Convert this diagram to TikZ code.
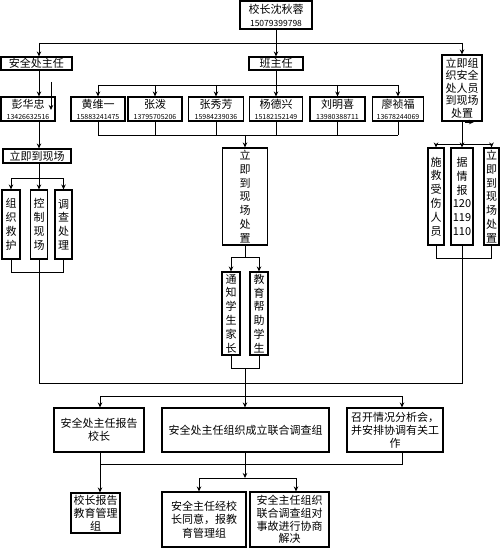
\documentclass[tikz,border=0pt]{standalone}
\usepackage{fontspec}
\setmainfont{Noto Sans CJK SC}
\usetikzlibrary{arrows.meta}
\newcommand\phn[1]{{\fontsize{7}{8}\selectfont #1}}
\begin{document}
\begin{tikzpicture}[x=1pt,y=-1pt,
  bx/.style={draw, line width=1.1pt, inner sep=0pt, align=center, font=\fontsize{11}{13}\selectfont},
  vt/.style={bx, font=\fontsize{11}{13.8}\selectfont},
  ln/.style={line width=0.8pt},
  ar/.style={ln, -{Stealth[length=5pt,width=4.5pt]}}]
\useasboundingbox[fill=white] (0,0) rectangle (500,548);
% column / row coordinates
\coordinate (xL) at (39,0);   \coordinate (xT) at (276,0);  \coordinate (xR) at (462,0);
\coordinate (xM) at (245,0);  \coordinate (x1) at (100,0);  \coordinate (x3) at (402,0);
\coordinate (xa) at (199,0);  \coordinate (xb) at (296,0);
\coordinate (y43) at (0,43);  \coordinate (y85) at (0,85);  \coordinate (y135) at (0,135);
\coordinate (y144) at (0,144);\coordinate (y178) at (0,178);\coordinate (y257) at (0,257);
\coordinate (y258) at (0,258);\coordinate (y272) at (0,272);\coordinate (y368) at (0,368);
\coordinate (y383) at (0,383);\coordinate (y396) at (0,396);\coordinate (y464) at (0,464);
\coordinate (y478) at (0,478);
% nodes
\node[bx, minimum width=72pt, minimum height=28pt] (top) at (276,15) {校长沈秋蓉\\{\fontsize{8.5}{10}\selectfont 15079399798}};
\node[bx, minimum width=71pt, minimum height=13pt] (aq) at (36.5,63.5) {安全处主任};
\node[bx, minimum width=54pt, minimum height=13pt] (bzr) at (276,63.5) {班主任};
\node[bx, minimum width=40pt, minimum height=66pt, font=\fontsize{11}{12.6}\selectfont] (ljzz) at (462,88) {立即组\\织安全\\处人员\\到现场\\处置};
\node[bx, minimum width=54pt, minimum height=24pt, font=\fontsize{11}{11}\selectfont] (phz) at (28,109) {彭华忠\\\phn{13426632516}};
\node[bx, minimum width=54pt, minimum height=24pt, font=\fontsize{11}{11}\selectfont] (hwy) at (98,109) {黄维一\\\phn{15883241475}};
\node[bx, minimum width=54pt, minimum height=24pt, font=\fontsize{11}{11}\selectfont] (zp) at (155,109) {张泼\\\phn{13795705206}};
\node[bx, minimum width=55pt, minimum height=24pt, font=\fontsize{11}{11}\selectfont] (zxf) at (216,109) {张秀芳\\\phn{15984239036}};
\node[bx, minimum width=53pt, minimum height=24pt, font=\fontsize{11}{11}\selectfont] (ydx) at (276,109) {杨德兴\\\phn{15182152149}};
\node[bx, minimum width=55pt, minimum height=24pt, font=\fontsize{11}{11}\selectfont] (lmx) at (337.5,109) {刘明喜\\\phn{13980388711}};
\node[bx, minimum width=51pt, minimum height=24pt, font=\fontsize{11}{11}\selectfont] (lzf) at (398,109) {廖祯福\\\phn{13678244069}};
\node[bx, minimum width=68pt, minimum height=14pt] (ljdx) at (37,156) {立即到现场};
\node[vt, minimum width=18pt, minimum height=69pt] (zzjh) at (11,224.5) {组\\织\\救\\护};
\node[vt, minimum width=17pt, minimum height=69pt] (kzxc) at (39,224.5) {控\\制\\现\\场};
\node[vt, minimum width=17pt, minimum height=69pt] (dccl) at (63.5,224.5) {调\\查\\处\\理};
\node[vt, minimum width=45pt, minimum height=97pt] (xc) at (245,196.5) {立\\即\\到\\现\\场\\处\\置};
\node[vt, minimum width=18pt, minimum height=83pt] (tz) at (231,313.5) {通\\知\\学\\生\\家\\长};
\node[vt, minimum width=18pt, minimum height=83pt] (jy) at (259,313.5) {教\\育\\帮\\助\\学\\生};
\node[vt, minimum width=16pt, minimum height=97pt] (sj) at (436,196.5) {施\\救\\受\\伤\\人\\员};
\node[vt, minimum width=22pt, minimum height=97pt] (jq) at (462,196.5) {据\\情\\报\\120\\119\\110};
\node[vt, minimum width=15pt, minimum height=97pt] (lj2) at (491.5,196.5) {立\\即\\到\\现\\场\\处\\置};
\node[bx, minimum width=90pt, minimum height=44pt] (b1) at (99,430) {安全处主任报告\\校长};
\node[bx, minimum width=167pt, minimum height=44pt] (b2) at (245.5,430) {安全处主任组织成立联合调查组};
\node[bx, minimum width=96pt, minimum height=44pt] (b3) at (395,430) {召开情况分析会，\\并安排协调有关工\\作};
\node[bx, minimum width=49pt, minimum height=40pt] (c1) at (95.5,513) {校长报告\\教育管理\\组};
\node[bx, minimum width=84pt, minimum height=55pt, font=\fontsize{11}{13.5}\selectfont] (c2) at (204,519.5) {安全主任经校\\长同意，报教\\育管理组};
\node[bx, minimum width=79pt, minimum height=55pt, font=\fontsize{11}{12.8}\selectfont] (c3) at (289.5,519.5) {安全主任组织\\联合调查组对\\事故进行协商\\解决};
% top level
\draw[ln] (xL |- y43) -- (xR |- y43);
\draw[ar] (top.south) -- (bzr.north);
\draw[ar] (xL |- y43) -- (aq.north -| xL);
\draw[ar] (xR |- y43) -- (ljzz.north);
% left branch
\draw[ar] (aq.south -| xL) -- (phz.north -| xL);
\coordinate (s1) at (51,82); \coordinate (s2) at (51,110);
\draw[ar] (s1) -- (s2);
\draw[ar] (phz.south -| xL) -- (ljdx.north -| xL);
\draw[ln] (ljdx.south -| xL) -- (xL |- y178);
\draw[ln] (zzjh.north |- y178) -- (dccl.north |- y178);
\foreach \n in {zzjh,kzxc,dccl} \draw[ar] (\n.north |- y178) -- (\n.north);
\draw[ln] (zzjh.south) -- (zzjh.south |- y272) -- (dccl.south |- y272) -- (dccl.south);
\draw[ln] (kzxc.south) -- (kzxc.south |- y383) -- (jq.south |- y383) -- (jq.south);
% middle branch
\draw[ln] (bzr.south) -- (xT |- y85);
\draw[ln] (hwy.north |- y85) -- (lzf.north |- y85);
\foreach \n in {hwy,zp,zxf,ydx,lmx,lzf} {
  \draw[ar] (\n.north |- y85) -- (\n.north);
  \draw[ln] (\n.south) -- (\n.south |- y135);
}
\draw[ln] (hwy.south |- y135) -- (lzf.south |- y135);
\draw[ar] (xc.north |- y135) -- (xc.north);
\draw[ln] (xc.south) -- (xc.south |- y257);
\draw[ln] (tz.north |- y257) -- (jy.north |- y257);
\draw[ar] (tz.north |- y257) -- (tz.north);
\draw[ar] (jy.north |- y257) -- (jy.north);
\draw[ln] (tz.south) -- (tz.south |- y368) -- (jy.south |- y368) -- (jy.south);
\draw[ar] (xM |- y368) -- (b2.north -| xM);
% right branch
\draw[ar] (ljzz.south) -- (jq.north);
\coordinate (s3) at (465,122); \coordinate (s4) at (474,122);
\draw[ar] (s3) -- (s4);
\draw[ln] (sj.north |- y144) -- (lj2.north |- y144);
\draw[ar] (sj.north |- y144) -- (sj.north);
\draw[ar] (lj2.north |- y144) -- (lj2.north);
\draw[ln] (sj.south) -- (sj.south |- y258) -- (lj2.south |- y258) -- (lj2.south);
% lower section
\draw[ln] (x1 |- y396) -- (x3 |- y396);
\draw[ar] (x1 |- y396) -- (b1.north -| x1);
\draw[ar] (x3 |- y396) -- (b3.north -| x3);
\draw[ln] (b3.south -| x3) -- (x3 |- y464) -- (x1 |- y464);
\draw[ar] (b1.south -| x1) -- (c1.north -| x1);
\draw[ar] (b2.south -| xM) -- (xM |- y478);
\draw[ln] (xa |- y478) -- (xb |- y478);
\draw[ar] (xa |- y478) -- (c2.north -| xa);
\draw[ar] (xb |- y478) -- (c3.north -| xb);
\end{tikzpicture}
\end{document}
